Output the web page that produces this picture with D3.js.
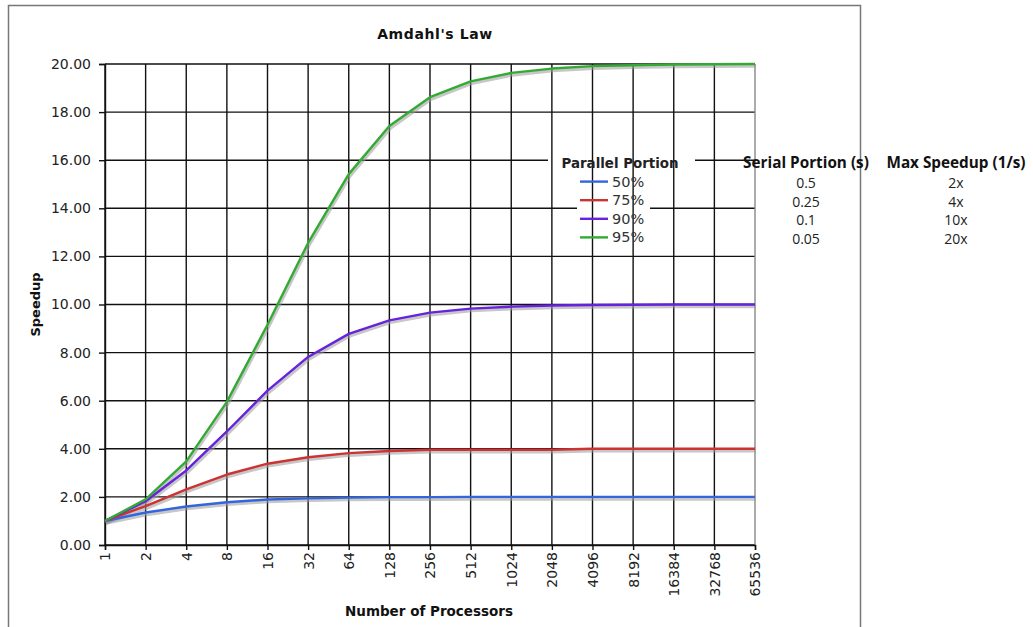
<!DOCTYPE html>
<html>
<head>
<meta charset="utf-8">
<script src="https://cdn.jsdelivr.net/npm/d3@7"></script>
<style>
  body { margin: 0; background: #fff; }
  svg { display: block; }
</style>
</head>
<body>
<div id="chart"></div>
<script>
// Amdahl's Law speedup chart

const processors = ['1', '2', '4', '8', '16', '32', '64', '128', '256', '512', '1024',
  '2048', '4096', '8192', '16384', '32768', '65536'];
const yTicks = [0, 2, 4, 6, 8, 10, 12, 14, 16, 18, 20];

const speedup50 = [1, 1.35, 1.6, 1.78, 1.89, 1.94, 1.97, 1.99, 1.99, 2, 2, 2, 2, 2, 2, 2, 2];
const speedup75 = [1, 1.62, 2.31, 2.93, 3.38, 3.65, 3.82, 3.91, 3.96, 3.96, 3.96, 3.96, 4, 4, 4, 4, 4];
const speedup90 = [1, 1.82, 3.1, 4.72, 6.42, 7.82, 8.78, 9.34, 9.66, 9.83, 9.91, 9.96, 9.98, 9.99, 10, 10, 10];
const speedup95 = [1, 1.9, 3.48, 5.95, 9.16, 12.56, 15.42, 17.42, 18.62, 19.28, 19.63, 19.81, 19.91, 19.95, 19.98, 19.99, 20];

const seriesNames = ['50%', '75%', '90%', '95%'];
const seriesColors = ['#3366dd', '#cc3333', '#6622dd', '#33aa33'];
const serialPortion = ['0.5', '0.25', '0.1', '0.05'];
const maxSpeedup = ['2x', '4x', '10x', '20x'];

const series = [speedup50, speedup75, speedup90, speedup95];

const W = 1033, H = 627;
const margin = { top: 64, right: 278, bottom: 82, left: 105 };
const width = W - margin.left - margin.right;
const height = H - margin.top - margin.bottom;

const svg = d3.select('#chart').append('svg')
  .attr('width', W)
  .attr('height', H);

// outer frame
svg.append('rect')
  .attr('x', 8.5).attr('y', 5.5)
  .attr('width', 852).attr('height', 700)
  .attr('fill', '#fff')
  .attr('stroke', '#777')
  .attr('stroke-width', 1.5);

const g = svg.append('g')
  .attr('transform', 'translate(' + margin.left + ',' + margin.top + ')');

const x = d3.scalePoint().domain(processors).range([0, width]);
const y = d3.scaleLinear().domain([0, 20]).range([height, 0]);

// horizontal grid
g.append('g').selectAll('line')
  .data(yTicks)
  .join('line')
  .attr('x1', 0).attr('x2', width)
  .attr('y1', d => y(d)).attr('y2', d => y(d))
  .attr('stroke', '#111')
  .attr('stroke-width', 1.4);

// legend backgrounds knock out the grid
const legendX = 620;
const legendTop = 168 - margin.top;
const rowH = 18.6;
g.append('rect')
  .attr('x', 548 - margin.left).attr('y', legendTop - 14)
  .attr('width', 147).attr('height', 17)
  .attr('fill', '#fff');
g.append('rect')
  .attr('x', 577 - margin.left).attr('y', legendTop + 5)
  .attr('width', 73).attr('height', rowH * 4)
  .attr('fill', '#fff');

// vertical grid
g.append('g').selectAll('line')
  .data(processors)
  .join('line')
  .attr('x1', d => x(d)).attr('x2', d => x(d))
  .attr('y1', 0).attr('y2', height)
  .attr('stroke', (d, i) => i === processors.length - 1 ? '#888' : '#111')
  .attr('stroke-width', 1.4);

// axes
const yAxis = d3.axisLeft(y).tickValues(yTicks).tickFormat(d3.format('.2f')).tickSize(6).tickPadding(8);
const yAxisG = g.append('g').call(yAxis);
yAxisG.select('.domain').attr('stroke', '#111').attr('stroke-width', 1.4);
yAxisG.selectAll('.tick line').attr('stroke', '#111').attr('stroke-width', 1.4);
yAxisG.selectAll('text')
  .attr('font-family', 'DejaVu Sans, Verdana, sans-serif')
  .attr('font-size', 14)
  .attr('fill', '#222');

const xAxis = d3.axisBottom(x).tickSize(5).tickPadding(0);
const xAxisG = g.append('g')
  .attr('transform', 'translate(0,' + height + ')')
  .call(xAxis);
xAxisG.select('.domain').attr('stroke', '#111').attr('stroke-width', 1.4);
xAxisG.selectAll('.tick line').attr('stroke', '#111').attr('stroke-width', 1.4);
xAxisG.selectAll('text')
  .attr('font-family', 'DejaVu Sans, Verdana, sans-serif')
  .attr('font-size', 14)
  .attr('fill', '#222')
  .attr('text-anchor', 'end')
  .attr('dy', '0.35em')
  .attr('transform', 'translate(0,7) rotate(-90)')
  .attr('x', 0).attr('y', 0);

// lines with soft shadow
const line = d3.line()
  .x((d, i) => x(processors[i]))
  .y(d => y(d));

const lines = g.append('g');
series.forEach((s, k) => {
  lines.append('path')
    .datum(s)
    .attr('fill', 'none')
    .attr('stroke', '#999')
    .attr('stroke-opacity', 0.55)
    .attr('stroke-width', 3.5)
    .attr('transform', 'translate(1,2)')
    .attr('d', line);
});
series.forEach((s, k) => {
  lines.append('path')
    .datum(s)
    .attr('fill', 'none')
    .attr('stroke', seriesColors[k])
    .attr('stroke-width', 2.4)
    .attr('stroke-linejoin', 'round')
    .attr('d', line);
});

// legend
g.append('text')
  .attr('x', legendX - margin.left).attr('y', legendTop)
  .attr('text-anchor', 'middle')
  .attr('font-family', 'DejaVu Sans, Verdana, sans-serif')
  .attr('font-weight', 'bold')
  .attr('font-size', 13.4)
  .attr('fill', '#222')
  .text('Parallel Portion');

const items = g.append('g').selectAll('g')
  .data(seriesNames)
  .join('g')
  .attr('transform', (d, i) => 'translate(0,' + (legendTop + rowH * (i + 1)) + ')');
items.append('line')
  .attr('x1', 580 - margin.left).attr('x2', 608 - margin.left)
  .attr('y1', -5).attr('y2', -5)
  .attr('stroke', (d, i) => seriesColors[i])
  .attr('stroke-width', 2.4);
items.append('text')
  .attr('x', 612 - margin.left).attr('y', 0)
  .attr('font-family', 'DejaVu Sans, Verdana, sans-serif')
  .attr('font-size', 14.5)
  .attr('fill', '#333')
  .text(d => d);

// titles
svg.append('text')
  .attr('x', 435).attr('y', 39)
  .attr('text-anchor', 'middle')
  .attr('font-family', 'DejaVu Sans, Verdana, sans-serif')
  .attr('font-weight', 'bold')
  .attr('font-size', 14)
  .attr('letter-spacing', 0.6)
  .attr('fill', '#111')
  .text("Amdahl's Law");

svg.append('text')
  .attr('x', 429).attr('y', 616)
  .attr('text-anchor', 'middle')
  .attr('font-family', 'DejaVu Sans, Verdana, sans-serif')
  .attr('font-weight', 'bold')
  .attr('font-size', 13.5)
  .attr('fill', '#111')
  .text('Number of Processors');

svg.append('text')
  .attr('transform', 'translate(40,' + (margin.top + height / 2) + ') rotate(-90)')
  .attr('text-anchor', 'middle')
  .attr('font-family', 'DejaVu Sans, Verdana, sans-serif')
  .attr('font-weight', 'bold')
  .attr('font-size', 13)
  .attr('fill', '#111')
  .text('Speedup');

// side table
const tableFont = 'Open Sans, Noto Sans, sans-serif';
const col1 = 806, col2 = 956;
svg.append('text')
  .attr('x', col1).attr('y', 168)
  .attr('text-anchor', 'middle')
  .attr('font-family', tableFont)
  .attr('font-weight', 'bold')
  .attr('font-size', 15.3)
  .attr('fill', '#111')
  .text('Serial Portion (s)');
svg.append('text')
  .attr('x', col2).attr('y', 168)
  .attr('text-anchor', 'middle')
  .attr('font-family', tableFont)
  .attr('font-weight', 'bold')
  .attr('font-size', 15.3)
  .attr('fill', '#111')
  .text('Max Speedup (1/s)');

svg.append('g').selectAll('text')
  .data(serialPortion)
  .join('text')
  .attr('x', col1).attr('y', (d, i) => 188 + i * 18.6)
  .attr('text-anchor', 'middle')
  .attr('font-family', tableFont)
  .attr('font-size', 14)
  .attr('fill', '#222')
  .text(d => d);
svg.append('g').selectAll('text')
  .data(maxSpeedup)
  .join('text')
  .attr('x', col2).attr('y', (d, i) => 188 + i * 18.6)
  .attr('text-anchor', 'middle')
  .attr('font-family', tableFont)
  .attr('font-size', 14)
  .attr('fill', '#222')
  .text(d => d);
</script>
</body>
</html>
